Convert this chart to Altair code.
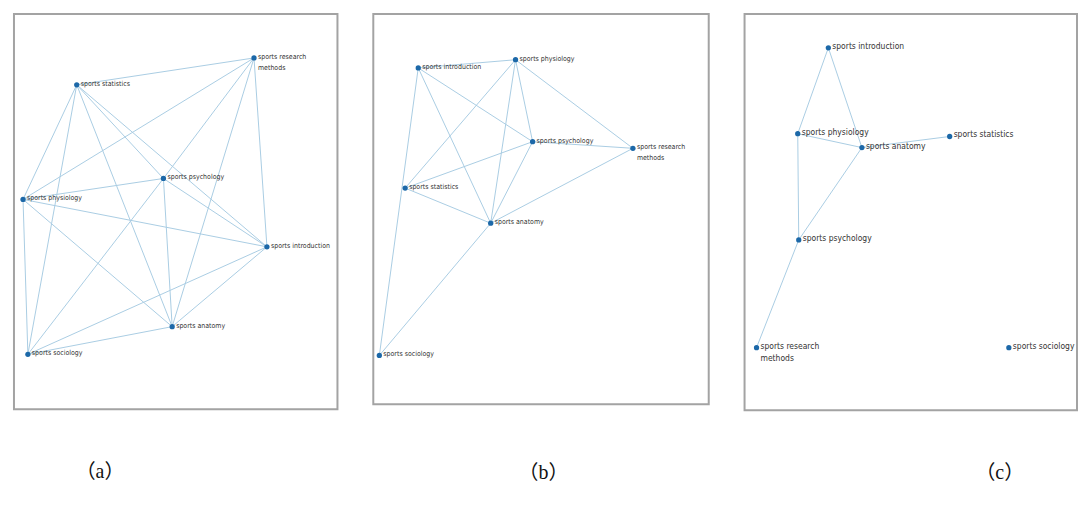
import altair as alt
import pandas as pd

# ---------------- data ----------------
# Panel (a): node layout coordinates (0-100, y measured from top)
a_nodes = ["sports research methods", "sports statistics", "sports psychology",
           "sports physiology", "sports introduction", "sports anatomy", "sports sociology"]
a_x = [74.2, 19.4, 46.2, 2.8, 78.2, 48.9, 4.3]
a_y = [11.1, 17.9, 41.6, 46.9, 58.9, 79.1, 86.1]
a_edges = [
    ("sports research methods", "sports statistics"),
    ("sports research methods", "sports physiology"),
    ("sports research methods", "sports psychology"),
    ("sports research methods", "sports anatomy"),
    ("sports research methods", "sports introduction"),
    ("sports statistics", "sports physiology"),
    ("sports statistics", "sports sociology"),
    ("sports statistics", "sports anatomy"),
    ("sports statistics", "sports psychology"),
    ("sports statistics", "sports introduction"),
    ("sports physiology", "sports psychology"),
    ("sports physiology", "sports introduction"),
    ("sports physiology", "sports anatomy"),
    ("sports physiology", "sports sociology"),
    ("sports psychology", "sports introduction"),
    ("sports psychology", "sports anatomy"),
    ("sports psychology", "sports sociology"),
    ("sports introduction", "sports anatomy"),
    ("sports introduction", "sports sociology"),
    ("sports anatomy", "sports sociology"),
]

# Panel (b)
b_nodes = ["sports introduction", "sports physiology", "sports psychology",
           "sports research methods", "sports statistics", "sports anatomy", "sports sociology"]
b_x = [13.4, 42.4, 47.5, 77.4, 9.5, 35.0, 1.8]
b_y = [13.8, 11.7, 32.7, 34.4, 44.6, 53.6, 87.5]
b_edges = [
    ("sports introduction", "sports physiology"),
    ("sports introduction", "sports psychology"),
    ("sports introduction", "sports anatomy"),
    ("sports introduction", "sports sociology"),
    ("sports physiology", "sports statistics"),
    ("sports physiology", "sports anatomy"),
    ("sports physiology", "sports psychology"),
    ("sports physiology", "sports research methods"),
    ("sports psychology", "sports research methods"),
    ("sports psychology", "sports statistics"),
    ("sports psychology", "sports anatomy"),
    ("sports statistics", "sports anatomy"),
    ("sports anatomy", "sports research methods"),
    ("sports anatomy", "sports sociology"),
]

# Panel (c)
c_nodes = ["sports introduction", "sports physiology", "sports anatomy", "sports statistics",
           "sports psychology", "sports research methods", "sports sociology"]
c_x = [25.2, 16.0, 35.3, 61.7, 16.3, 3.6, 79.5]
c_y = [8.5, 30.2, 33.7, 30.9, 57.0, 84.2, 84.2]
c_edges = [
    ("sports introduction", "sports physiology"),
    ("sports introduction", "sports anatomy"),
    ("sports physiology", "sports anatomy"),
    ("sports anatomy", "sports statistics"),
    ("sports physiology", "sports psychology"),
    ("sports anatomy", "sports psychology"),
    ("sports psychology", "sports research methods"),
]

captions = ["（a）", "（b）", "（c）"]

EDGE_COLOR = "#a9cde3"
NODE_COLOR = "#1c68a8"
LABEL_FONT = "DejaVu Sans Condensed, Liberation Sans Narrow, Liberation Sans, sans-serif"
CAPTION_FONT = "Liberation Serif, Times New Roman, Noto Sans CJK SC, serif"


def panel(names, xs, ys, edges, w, h, label_size, caption, cap_dx, cap_offset, dy):
    nodes = pd.DataFrame({"name": names, "x": xs, "y": ys})
    nodes["label"] = nodes["name"].replace(
        {"sports research methods": "sports research\nmethods"})
    pos = {n: (x, y) for n, x, y in zip(names, xs, ys)}
    edf = pd.DataFrame([
        {"x": pos[s][0], "y": pos[s][1], "x2": pos[t][0], "y2": pos[t][1]}
        for s, t in edges
    ])
    xsc = alt.Scale(domain=[0, 100], nice=False, zero=False)
    ysc = alt.Scale(domain=[0, 100], nice=False, zero=False, reverse=True)
    X = alt.X("x:Q", scale=xsc, axis=None)
    Y = alt.Y("y:Q", scale=ysc, axis=None)

    rules = alt.Chart(edf).mark_rule(color=EDGE_COLOR, strokeWidth=1).encode(
        x=X, y=Y, x2="x2:Q", y2="y2:Q")
    pts = alt.Chart(nodes).mark_point(
        filled=True, shape="circle", size=28, color=NODE_COLOR, opacity=1
    ).encode(x=X, y=Y)
    txt = alt.Chart(nodes).mark_text(
        align="left", baseline="top", dx=4, dy=dy, fontSize=label_size,
        font=LABEL_FONT, color="#333333", lineBreak="\n", lineHeight=label_size + 4
    ).encode(x=X, y=Y, text="label:N")

    return alt.layer(rules, pts, txt).properties(
        width=w, height=h,
        title=alt.Title(caption, orient="bottom", anchor="start", dx=cap_dx,
                        offset=cap_offset, fontSize=20, font=CAPTION_FONT,
                        fontWeight="normal", color="#111111"),
    )


pa = panel(a_nodes, a_x, a_y, a_edges, 325, 397, 7, captions[0], 62, 53, -5)
pb = panel(b_nodes, b_x, b_y, b_edges, 337, 392, 7, captions[1], 146, 59, -5)
pc = panel(c_nodes, c_x, c_y, c_edges, 334, 398, 8.5, captions[2], 232, 53, -6)

chart = alt.hconcat(pa, pb, pc, spacing=34).properties(
    padding={"left": 5, "top": 4, "right": 0, "bottom": 0}
).configure_view(stroke="#a3a3a3", strokeWidth=2)

chart.save("out.html", embed_options={"renderer": "svg", "actions": False})
